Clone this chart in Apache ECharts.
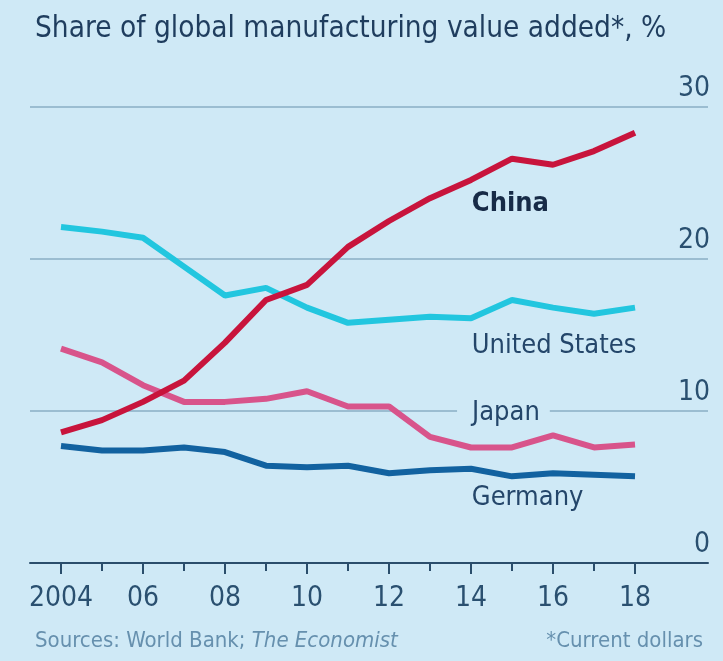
<!DOCTYPE html>
<html>
<head>
<meta charset="utf-8">
<script src="https://cdn.jsdelivr.net/npm/echarts@6/dist/echarts.min.js"></script>
<style>
html,body{margin:0;padding:0;background:#cfe9f6;}
#c{width:723px;height:661px;}
</style>
</head>
<body>
<div id="c"></div>
<script>
var years = [2004,2005,2006,2007,2008,2009,2010,2011,2012,2013,2014,2015,2016,2017,2018];
var china   = [8.6, 9.4, 10.6, 12.0, 14.5, 17.3, 18.3, 20.8, 22.5, 24.0, 25.2, 26.6, 26.2, 27.1, 28.3];
var usa     = [22.1, 21.8, 21.4, 19.5, 17.6, 18.1, 16.8, 15.8, 16.0, 16.2, 16.1, 17.3, 16.8, 16.4, 16.8];
var japan   = [14.1, 13.2, 11.7, 10.6, 10.6, 10.8, 11.3, 10.3, 10.3, 8.3, 7.6, 7.6, 8.4, 7.6, 7.8];
var germany = [7.7, 7.4, 7.4, 7.6, 7.3, 6.4, 6.3, 6.4, 5.9, 6.1, 6.2, 5.7, 5.9, 5.8, 5.7];
var majorYears = [2004,2006,2008,2010,2012,2014,2016,2018];
var minorYears = [2005,2007,2009,2011,2013,2015,2017];
var yTicks = [0,10,20,30];

var FONT = "'Liberation Sans Narrow','DejaVu Sans Condensed','Roboto',sans-serif";
var BG = '#cfe9f6';
function pairs(vals){ return years.map(function(y,i){ return [y, vals[i]]; }); }

var chart = echarts.init(document.getElementById('c'), null, {renderer:'canvas'});
chart.setOption({
  backgroundColor: BG,
  animation: false,
  textStyle: {fontFamily: FONT},
  title: [
    {text: 'Share of global manufacturing value added*, %', left: 30, top: 9,
     textStyle: {fontFamily: FONT, fontSize: 29.5, fontWeight: 'normal', color: '#1f3d5e'}},
    {text: '{a|Sources: World Bank; }{b|The Economist}', left: 30, top: 625,
     textStyle: {fontWeight: 'normal', rich: {
       a: {fontFamily: FONT, fontSize: 22, fontWeight: 'normal', color: '#6690ae'},
       b: {fontFamily: FONT, fontSize: 22, fontWeight: 'normal', color: '#6690ae', fontStyle: 'italic'}
     }}},
    {text: '*Current dollars', right: 15, top: 625,
     textStyle: {fontFamily: FONT, fontSize: 22, fontWeight: 'normal', color: '#6690ae'}}
  ],
  grid: {left: 30, right: 15, top: 107, bottom: 98},
  xAxis: [
    {type: 'value', min: 2003.244, max: 2019.78,
     axisLine: {show: true, lineStyle: {color: '#2b4e6c', width: 2}},
     axisTick: {show: true, customValues: majorYears, length: 11, lineStyle: {color: '#2b4e6c', width: 2}},
     axisLabel: {show: true, customValues: majorYears, margin: 22,
       fontFamily: FONT, fontSize: 28, color: '#2a5070',
       formatter: function(v){ return v === 2004 ? '2004' : String(v).slice(2); }},
     splitLine: {show: false}},
    {type: 'value', min: 2003.244, max: 2019.78, position: 'bottom',
     axisLine: {show: false},
     axisTick: {show: true, customValues: minorYears, length: 8, lineStyle: {color: '#2b4e6c', width: 2}},
     axisLabel: {show: false},
     splitLine: {show: false}}
  ],
  yAxis: {
    type: 'value', position: 'right', min: 0, max: 30, interval: 10,
    axisLine: {show: false}, axisTick: {show: false},
    axisLabel: {inside: true, margin: -2, verticalAlign: 'bottom', padding: [0,0,4,0],
      fontFamily: FONT, fontSize: 28, color: '#2a5070',
      formatter: function(v){ return yTicks.indexOf(v) >= 0 ? String(v) : ''; }},
    splitLine: {show: true, lineStyle: {color: '#9bbdd1', width: 2}}
  },
  series: [
    {name: 'Germany', type: 'line', data: pairs(germany), symbol: 'none',
     lineStyle: {color: '#1262a0', width: 6}, z: 2,
     markPoint: {symbol: 'circle', symbolSize: 0, silent: true,
       data: [{coord: [2014.02, 4.3], value: 'Germany'}],
       label: {show: true, position: 'right', distance: 0, formatter: 'Germany',
         fontFamily: FONT, fontSize: 27, color: '#24466a'}}},
    {name: 'Japan', type: 'line', data: pairs(japan), symbol: 'none',
     lineStyle: {color: '#d8548b', width: 6}, z: 3,
     markPoint: {symbol: 'circle', symbolSize: 0, silent: true,
       data: [{coord: [2013.66, 9.85], value: 'Japan'}],
       label: {show: true, position: 'right', distance: 0, formatter: 'Japan',
         backgroundColor: BG, padding: [2,10,2,15],
         fontFamily: FONT, fontSize: 27, color: '#24466a'}}},
    {name: 'United States', type: 'line', data: pairs(usa), symbol: 'none',
     lineStyle: {color: '#22c6df', width: 6}, z: 4,
     markPoint: {symbol: 'circle', symbolSize: 0, silent: true,
       data: [{coord: [2014.02, 14.3], value: 'United States'}],
       label: {show: true, position: 'right', distance: 0, formatter: 'United States',
         fontFamily: FONT, fontSize: 27, color: '#24466a'}}},
    {name: 'China', type: 'line', data: pairs(china), symbol: 'none',
     lineStyle: {color: '#c8143c', width: 6}, z: 5,
     markPoint: {symbol: 'circle', symbolSize: 0, silent: true,
       data: [{coord: [2014.02, 23.6], value: 'China'}],
       label: {show: true, position: 'right', distance: 0, formatter: 'China',
         fontFamily: FONT, fontSize: 27, fontWeight: 'bold', color: '#172b47'}}}
  ]
});
</script>
</body>
</html>
